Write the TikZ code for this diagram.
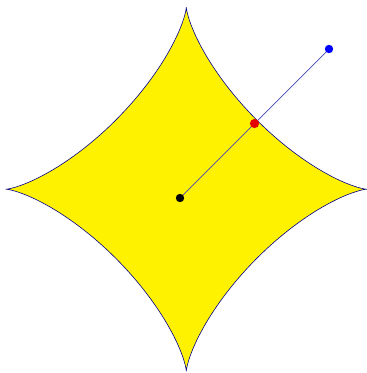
\documentclass[tikz,border=0pt]{standalone}
\usepackage{tikz}
\begin{document}
\begin{tikzpicture}[x=1pt,y=-1pt]
\useasboundingbox (0,0) rectangle (367,373);
\coordinate (c) at (186.3,189.2);
\coordinate (o) at (180,198);
\coordinate (p) at (254.5,123.5);
\coordinate (q) at (329,49);
\draw[fill=yellow,draw=blue!55!black,line width=0.6pt] plot[domain=0.5:360.5,samples=361]
 ({186.3+180.3*cos(\x)*abs(cos(\x))^1.75},{189.2-181.9*sin(\x)*abs(sin(\x))^1.75}) -- cycle;
\draw[blue!45!gray,line width=0.7pt] (o)--(q);
\fill[black] (o) circle (4.2);
\fill[red!90!black] (p) circle (4.6);
\fill[blue] (q) circle (4.2);
\end{tikzpicture}
\end{document}
